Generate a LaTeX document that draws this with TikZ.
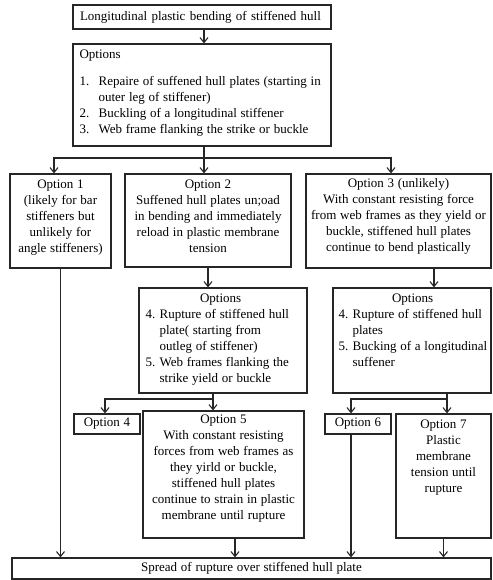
\documentclass[tikz,border=0pt]{standalone}
\usepackage{fontspec}
\setmainfont[WordSpace=1.15]{Liberation Serif}
\usetikzlibrary{arrows.meta}
\begin{document}
\begin{tikzpicture}[x=1pt,y=-1pt,
  font=\fontsize{13}{16}\selectfont,
  box/.style={draw=black!85, line width=1.2pt, inner sep=0pt},
  sz/.style 2 args={minimum width=#1, minimum height=#2},
  txt/.style={inner sep=0pt, align=center},
  ln/.style={draw=black!85, line width=1.1pt},
  arr/.style={ln, -{Straight Barb[length=5pt,width=8pt]}}]
\useasboundingbox (0,0) rectangle (492,580);

% boxes
\node[box, sz={258}{24}, text width=244pt, inner xsep=7pt, align=left] (top) at (202,17) {Longitudinal plastic bending of stiffened hull};

\node[box, sz={258}{102}] (opts) at (202,95) {};
\node[txt, align=left, anchor=north west] (optst) at ([xshift=7pt,yshift=-6pt]opts.north west) {Options\\[11pt]
\makebox[19pt][l]{1.}Repaire of suffened hull plates (starting in\\
\hspace*{19pt}outer leg of stiffener)\\
\makebox[19pt][l]{2.}Buckling of a longitudinal stiffener\\
\makebox[19pt][l]{3.}Web frame flanking the strike or buckle};

\node[box, sz={101}{94}] (o1) at (60.5,221) {};
\node[txt, anchor=north] (o1t) at ([yshift=-6pt]o1.north) {Option 1\\(likely for bar\\stiffeners but\\unlikely for\\angle stiffeners)};

\node[box, sz={166}{93}] (o2) at (208,220.5) {};
\node[txt, anchor=north] (o2t) at ([yshift=-6pt]o2.north) {Option 2\\Suffened hull plates un;oad\\in bending and immediately\\reload in plastic membrane\\tension};

\node[box, sz={185}{94}] (o3) at (398.5,221) {};
\node[txt, anchor=north] (o3t) at ([yshift=-5pt]o3.north) {Option 3 (unlikely)\\With constant resisting force\\from web frames as they yield or\\buckle, stiffened hull plates\\continue to bend plastically};

\node[box, sz={168}{105}] (mo) at (223,340.5) {};
\node[txt, align=left, anchor=north west] (mot) at ([xshift=7pt,yshift=-6pt]mo.north west) {\makebox[150pt]{Options}\\
\makebox[14pt][l]{4.}Rupture of stiffened hull\\
\hspace*{14pt}plate( starting from\\
\hspace*{14pt}outleg of stiffener)\\
\makebox[14pt][l]{5.}Web frames flanking the\\
\hspace*{14pt}strike yield or buckle};

\node[box, sz={158}{105}] (ro) at (412,340.5) {};
\node[txt, align=left, anchor=north west] (rot) at ([xshift=6pt,yshift=-6pt]ro.north west) {\makebox[148pt]{Options}\\
\makebox[14pt][l]{4.}Rupture of stiffened hull\\
\hspace*{14pt}plates\\
\makebox[14pt][l]{5.}Bucking of a longitudinal\\
\hspace*{14pt}suffener};

\node[box, sz={66}{20}] (o4) at (107,424) {Option 4};

\node[box, sz={161}{127}] (o5) at (223.5,474.5) {};
\node[txt, anchor=north] (o5t) at ([yshift=-4pt]o5.north) {Option 5\\With constant resisting\\forces from web frames as\\they yirld or buckle,\\stiffened hull plates\\continue to strain in plastic\\membrane until rupture};

\node[box, sz={66}{20}] (o6) at (358,424) {Option 6};

\node[box, sz={95}{124}] (o7) at (443.5,476) {};
\node[txt, anchor=north] (o7t) at ([yshift=-6pt]o7.north) {Option 7\\Plastic\\membrane\\tension until\\rupture};

\node[box, sz={479}{21}] (bot) at (251.5,568.5) {Spread of rupture over stiffened hull plate};

% connectors
\draw[arr] ([xshift=2pt]top.south) -- ([xshift=2pt]opts.north);

\coordinate (j1) at (204,158);
\draw[ln] ([xshift=2pt]opts.south) -- (j1);
\draw[arr] (j1) -| ([xshift=-6.5pt]o1.north);
\draw[arr] (j1) -- ([xshift=-4pt]o2.north);
\draw[arr] (j1) -| ([xshift=-7.5pt]o3.north);

\draw[arr] (o2.south) -- (o2.south |- mo.north);
\draw[arr] ([xshift=35.5pt]o3.south) -- ([xshift=35.5pt]o3.south |- ro.north);

\coordinate (j2) at (213,399);
\draw[ln] ([xshift=-10pt]mo.south) -- (j2);
\draw[arr] (j2) -| ([xshift=-2pt]o4.north);
\draw[arr] (j2) -- (j2 |- o5.north);

\coordinate (j3) at (447,399);
\draw[ln] ([xshift=35pt]ro.south) -- (j3);
\draw[arr] (j3) -| ([xshift=-7pt]o6.north);
\draw[arr] (j3) -- (j3 |- o7.north);

\draw[arr] (o1.south) -- (o1.south |- bot.north);
\draw[arr] ([xshift=11.5pt]o5.south) -- ([xshift=11.5pt]o5.south |- bot.north);
\draw[arr] ([xshift=-7pt]o6.south) -- ([xshift=-7pt]o6.south |- bot.north);
\draw[arr] (o7.south) -- (o7.south |- bot.north);
\end{tikzpicture}
\end{document}
